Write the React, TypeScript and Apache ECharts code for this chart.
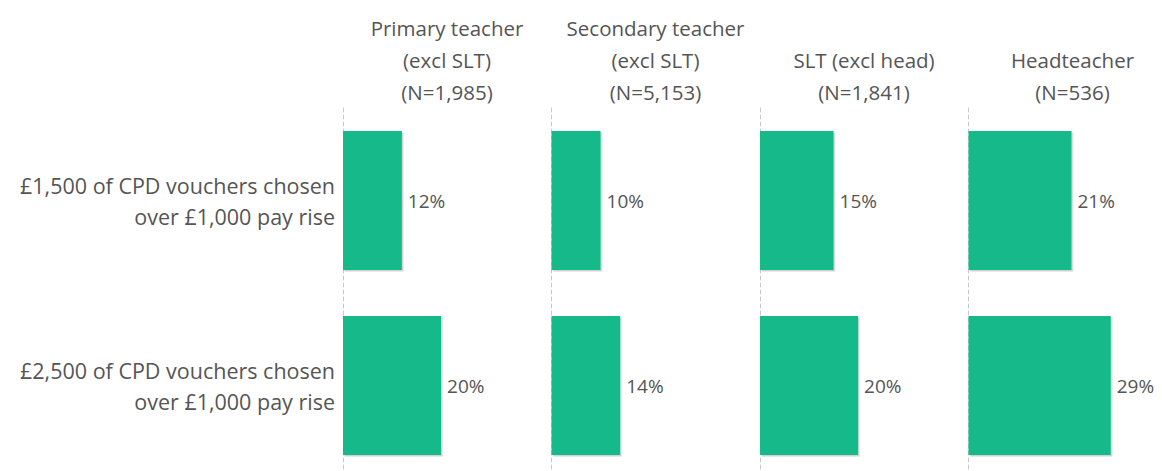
import React, { useEffect, useRef } from "react";
import * as echarts from "echarts";

const categories = [
  "£1,500 of CPD vouchers chosen\nover £1,000 pay rise",
  "£2,500 of CPD vouchers chosen\nover £1,000 pay rise",
];
const panelTitles = [
  "Primary teacher\n(excl SLT)\n(N=1,985)",
  "Secondary teacher\n(excl SLT)\n(N=5,153)",
  "SLT (excl head)\n(N=1,841)",
  "Headteacher\n(N=536)",
];
const primaryValues = [12, 20];
const secondaryValues = [10, 14];
const sltValues = [15, 20];
const headValues = [21, 29];
const panelValues = [primaryValues, secondaryValues, sltValues, headValues];

const FONT = "'Open Sans', sans-serif";
const TEXT = "#555555";
const BAR = "#12B98A";

export default function App() {
  const ref = useRef<HTMLDivElement>(null);
  useEffect(() => {
    if (!ref.current) return;
    const chart = echarts.init(ref.current, null, { renderer: "svg" });
    const lefts = [343, 551.5, 760, 968.5];
    const gridW = 206;
    const grids = lefts.map((l) => ({
      left: l,
      width: gridW,
      top: 108,
      height: 370,
      outerBoundsMode: "none",
      containLabel: false,
    }));
    const xAxes = lefts.map((_, i) => ({
      type: "value",
      gridIndex: i,
      min: 0,
      max: 42,
      show: false,
    }));
    const yAxes = lefts.map((_, i) => ({
      type: "category",
      gridIndex: i,
      data: categories,
      inverse: true,
      axisLine: { show: true, lineStyle: { color: "#c8c8c8", type: [4, 3], width: 1 } },
      axisTick: { show: false },
      axisLabel: {
        show: i === 0,
        margin: 8,
        color: TEXT,
        fontFamily: FONT,
        fontSize: 21.5,
        lineHeight: 31,
        align: "right",
      },
    }));
    const series = panelValues.map((vals, i) => ({
      type: "bar",
      xAxisIndex: i,
      yAxisIndex: i,
      data: vals,
      barWidth: 139,
      itemStyle: {
        color: BAR,
        shadowColor: "rgba(0,0,0,0.18)",
        shadowOffsetX: 1.5,
        shadowOffsetY: 1.5,
        shadowBlur: 1,
      },
      label: {
        show: true,
        position: "right",
        distance: 6,
        formatter: (p: any) => `${p.value}%`,
        color: TEXT,
        fontFamily: FONT,
        fontSize: 19,
      },
    }));
    const graphic = panelTitles.map((t, i) => ({
      type: "text",
      x: lefts[i] + 104,
      y: 108,
      style: {
        text: t,
        textAlign: "center",
        textVerticalAlign: "bottom",
        fill: TEXT,
        font: `20.5px ${FONT}`,
        lineHeight: 32,
      },
    }));
    chart.setOption({
      animation: false,
      backgroundColor: "#ffffff",
      grid: grids,
      xAxis: xAxes,
      yAxis: yAxes,
      series,
      graphic,
    });
    return () => chart.dispose();
  }, []);
  return (
    <div
      ref={ref}
      style={{ position: "fixed", left: 0, top: 0, width: 1162, height: 471 }}
    />
  );
}
